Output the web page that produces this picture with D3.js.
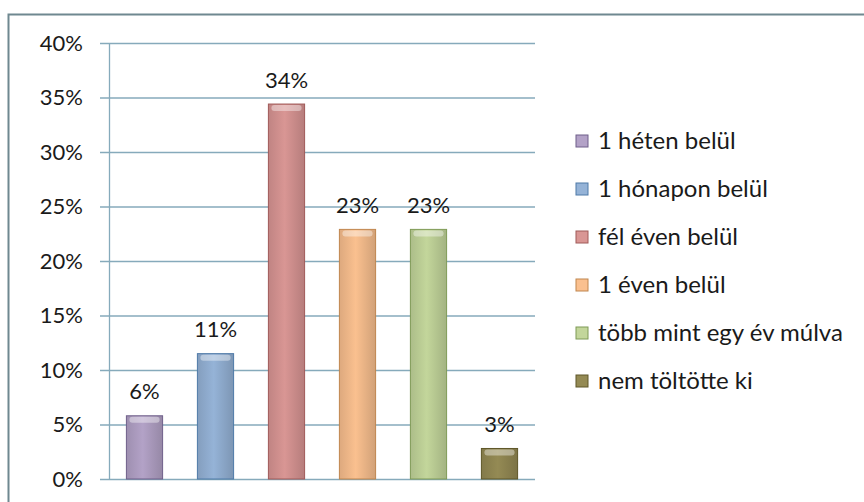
<!DOCTYPE html>
<html>
<head>
<meta charset="utf-8">
<script src="https://cdn.jsdelivr.net/npm/d3@7/dist/d3.min.js"></script>
<style>
  body { margin: 0; background: #fff; }
  text { font-family: Lato, "Open Sans", sans-serif; fill: #1a1a1a; }
</style>
</head>
<body>
<script>
var categories = ["1 héten belül", "1 hónapon belül", "fél éven belül", "1 éven belül", "több mint egy év múlva", "nem töltötte ki"];
var values = [5.8, 11.5, 34.4, 22.9, 22.9, 2.8];
var labels = ["6%", "11%", "34%", "23%", "23%", "3%"];
var yTicks = [0, 5, 10, 15, 20, 25, 30, 35, 40];
var fills = ["#b3a2c7", "#95b3d7", "#d99694", "#fac08f", "#c3d69b", "#948a54"];
var strokes = ["#6f5f8a", "#4f7aa8", "#a05a58", "#c0864e", "#7f9a56", "#5e5628"];

var width = 864, height = 502;
var svg = d3.select("body").append("svg")
    .attr("width", width)
    .attr("height", height);

// outer frame
svg.append("rect")
    .attr("x", 8.5).attr("y", 14.5)
    .attr("width", 870).attr("height", 500)
    .attr("fill", "#fff")
    .attr("stroke", "#6f8890")
    .attr("stroke-width", 2);

var defs = svg.append("defs");
fills.forEach(function(c, i) {
    var g = defs.append("linearGradient").attr("id", "g" + i)
        .attr("x1", 0).attr("x2", 1).attr("y1", 0).attr("y2", 0);
    g.append("stop").attr("offset", "0%").attr("stop-color", d3.color(c).darker(0.35));
    g.append("stop").attr("offset", "45%").attr("stop-color", c);
    g.append("stop").attr("offset", "100%").attr("stop-color", d3.color(c).darker(0.5));
});

var plotL = 109, plotR = 535, plotT = 43, plotB = 479;

var x = d3.scaleBand().domain(categories).range([plotL, plotR]).paddingInner(0.49).paddingOuter(0.245);
var y = d3.scaleLinear().domain([0, 40]).range([plotB, plotT]);

// gridlines + ticks
svg.append("g").selectAll("line").data(yTicks).enter().append("line")
    .attr("x1", 100).attr("x2", plotR)
    .attr("y1", function(d) { return y(d) + 0.5; })
    .attr("y2", function(d) { return y(d) + 0.5; })
    .attr("stroke", "#86aabb")
    .attr("stroke-width", 1.3);

svg.append("line")
    .attr("x1", plotL + 0.5).attr("x2", plotL + 0.5)
    .attr("y1", plotT).attr("y2", plotB)
    .attr("stroke", "#86aabb").attr("stroke-width", 1.3);

svg.append("g").selectAll("text").data(yTicks).enter().append("text")
    .attr("x", 83)
    .attr("y", function(d) { return y(d); })
    .attr("dy", "0.35em")
    .attr("text-anchor", "end")
    .style("font-size", "22px")
    .text(function(d) { return d + "%"; });

// bars
var bars = svg.append("g").selectAll("g").data(values).enter().append("g");
bars.append("rect")
    .attr("x", function(d, i) { return x(categories[i]); })
    .attr("y", function(d) { return y(d); })
    .attr("width", x.bandwidth())
    .attr("height", function(d) { return plotB - y(d); })
    .attr("fill", function(d, i) { return "url(#g" + i + ")"; })
    .attr("stroke", function(d, i) { return strokes[i]; })
    .attr("stroke-width", 1);
bars.append("rect")
    .attr("x", function(d, i) { return x(categories[i]) + 3; })
    .attr("y", function(d) { return y(d) + 1; })
    .attr("width", x.bandwidth() - 6)
    .attr("height", 6)
    .attr("rx", 3)
    .attr("fill", "#fff")
    .attr("opacity", 0.4);

svg.append("g").selectAll("text").data(values).enter().append("text")
    .attr("x", function(d, i) { return x(categories[i]) + x.bandwidth() / 2; })
    .attr("y", function(d) { return y(d) - 24; })
    .attr("dy", "0.35em")
    .attr("text-anchor", "middle")
    .style("font-size", "22px")
    .text(function(d, i) { return labels[i]; });

// legend
var legend = svg.append("g").selectAll("g").data(categories).enter().append("g")
    .attr("transform", function(d, i) { return "translate(576," + (141 + i * 48) + ")"; });
legend.append("rect")
    .attr("x", 0).attr("y", -6)
    .attr("width", 12).attr("height", 12)
    .attr("fill", function(d, i) { return fills[i]; })
    .attr("stroke", function(d, i) { return strokes[i]; });
legend.append("text")
    .attr("x", 22).attr("y", 0)
    .attr("dy", "0.35em")
    .style("font-size", "24px")
    .text(function(d) { return d; });
</script>
</body>
</html>
